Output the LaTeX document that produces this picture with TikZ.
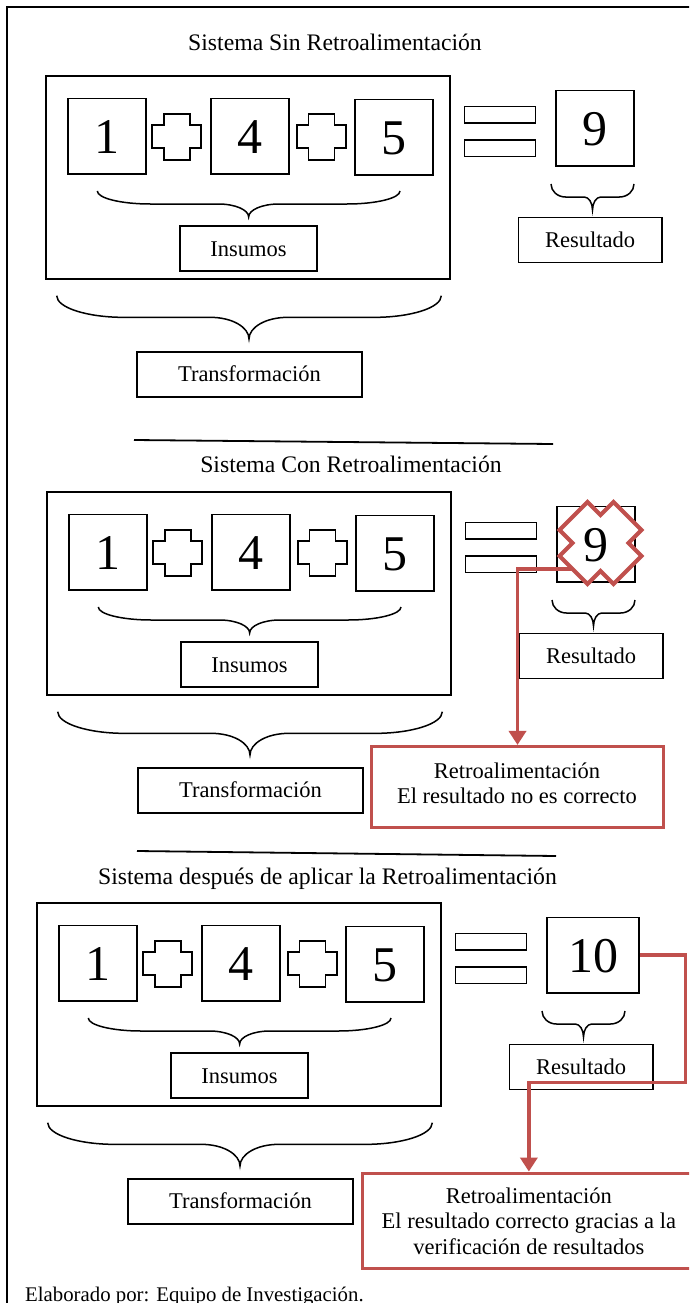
\documentclass[tikz,border=0pt]{standalone}
\usepackage{fontspec}
\setmainfont{Liberation Serif}
\usetikzlibrary{arrows.meta,calc}
\definecolor{fbred}{RGB}{192,80,77}

\tikzset{
  blk/.style={draw=black, line width=1.7pt},
  numbox/.style={blk, inner sep=0pt, minimum width=78pt, minimum height=75.5pt,
    font=\fontsize{50}{50}\selectfont, text height=33.8pt, text depth=0pt},
  eqbar/.style={blk, inner sep=0pt, minimum width=71pt, minimum height=16.5pt},
  lblbox/.style={blk, inner sep=0pt, minimum height=45pt,
    font=\fontsize{22.5}{25}\selectfont, text height=15pt, text depth=0pt},
  title/.style={anchor=base, inner sep=0pt, font=\fontsize{23.7}{28}\selectfont},
  brc/.style={draw=black, line width=1.5pt},
  sepline/.style={draw=black, line width=1.8pt},
  fbline/.style={draw=fbred, line width=3.5pt},
  fbbox/.style={draw=fbred, line width=3.5pt, inner sep=0pt},
  fbtext/.style={inner sep=0pt, align=center, font=\fontsize{22.5}{25.5}\selectfont},
  plusmark/.pic={\draw[blk] (-13,-23) -- (13,-23) -- (13,-11.5) -- (24.5,-11.5)
      -- (24.5,11.5) -- (13,11.5) -- (13,23) -- (-13,23) -- (-13,11.5)
      -- (-24.5,11.5) -- (-24.5,-11.5) -- (-13,-11.5) -- cycle;}
}

% under-brace from x=#1 to x=#2, ends at height #3, tip at height #4
\newcommand\ubrace[4]{%
  \pgfmathsetmacro\brLeft{#1}\pgfmathsetmacro\brRight{#2}%
  \pgfmathsetmacro\brTop{#3}\pgfmathsetmacro\brTip{#4}%
  \pgfmathsetmacro\brMid{(\brLeft+\brRight)/2}%
  \pgfmathsetmacro\brLev{(\brTop+\brTip)/2}%
  \pgfmathsetmacro\brHalf{(\brRight-\brLeft)/2}%
  \pgfmathsetmacro\brEnd{0.35*\brHalf}%
  \pgfmathsetmacro\brCen{0.2*\brHalf}%
  \draw[brc] (\brLeft,\brTop)
    .. controls (\brLeft,{\brTop+0.552*(\brLev-\brTop)}) and ({\brLeft+0.448*\brEnd},\brLev) .. ({\brLeft+\brEnd},\brLev)
    -- ({\brMid-\brCen},\brLev)
    .. controls ({\brMid-0.448*\brCen},\brLev) and (\brMid,{\brTip-0.552*(\brTip-\brLev)}) .. (\brMid,\brTip)
    .. controls (\brMid,{\brTip-0.552*(\brTip-\brLev)}) and ({\brMid+0.448*\brCen},\brLev) .. ({\brMid+\brCen},\brLev)
    -- ({\brRight-\brEnd},\brLev)
    .. controls ({\brRight-0.448*\brEnd},\brLev) and (\brRight,{\brTop+0.552*(\brLev-\brTop)}) .. (\brRight,\brTop);
}

% one system: #1,#2 shift, #3 name prefix, #4 result, #5 result box width, #6 result box x
\newcommand\sysblock[6]{%
  \begin{scope}[shift={(#1,#2)}]
    \node[blk, inner sep=0pt, minimum width=404pt, minimum height=203.3pt] (#3big) at (247.7,177.35) {};
    \node[numbox] (#3n1) at (107.3,136.35) {1};
    \pic at (176.8,136.7) {plusmark};
    \node[numbox] (#3n4) at (249.85,136.35) {4};
    \pic at (321.5,136.7) {plusmark};
    \node[numbox] (#3n5) at (393.85,137.35) {5};
    \ubrace{97.3}{400}{191}{217}
    \node[lblbox, minimum width=137.6pt] (#3ins) at (248.5,248.5) {Insumos};
    \ubrace{56.7}{441.3}{295.7}{339}
    \node[lblbox, minimum width=225.6pt] (#3tra) at (249.5,374.15) {Transformación};
    \node[eqbar] (#3eqa) at (500,114.75) {};
    \node[eqbar] (#3eqb) at (500,148.25) {};
    \node[numbox, minimum width=#5pt] (#3res) at (#6,128.2) {#4};
    \ubrace{551}{634}{184}{210}
    \node[lblbox, minimum width=143.7pt] (#3rlb) at (590.2,240) {Resultado};
  \end{scope}}

\begin{document}
\begin{tikzpicture}[x=1pt, y=-1pt]
  \useasboundingbox (0,0) rectangle (689,1303);
  \clip (0,0) rectangle (689,1303);

  % outer frame
  \draw[line width=2pt] (7,1310) -- (7,7.5) -- (700,7.5);

  % system without feedback
  \node[title] (t1) at (335,51) {Sistema Sin Retroalimentación};
  \sysblock{0}{0}{a}{9}{78}{595}

  \draw[sepline] (134,440) -- (553,444);

  % system with feedback
  \node[title] (t2) at (351,472) {Sistema Con Retroalimentación};
  \sysblock{1}{416}{b}{}{78}{595}
  \begin{scope}[shift={(600.5,543)}]
    \draw[fbline, fill=white, line width=4pt] (-41,-13) -- (-13,-41) -- (0,-28) -- (13,-41)
      -- (41,-13) -- (28,0) -- (41,13) -- (13,41) -- (0,28) -- (-13,41)
      -- (-41,13) -- (-28,0) -- cycle;
  \end{scope}
  \node[inner sep=0pt, font=\fontsize{50}{50}\selectfont, text height=33.8pt, text depth=0pt]
    (bnine) at (bres.center) {9};

  \node[fbbox, minimum width=291.6pt, minimum height=81pt] (fb1) at (517.5,787.2) {};
  \node[fbtext] (fb1t) at (517,783.5) {Retroalimentación\\El resultado no es correcto};
  \coordinate (bxo) at (572.5,569);
  \draw[fbline, -{Triangle[length=14pt,width=17pt]}] (bxo) -| (fb1.north);

  \draw[sepline] (137,851) -- (556,856);

  % system after applying feedback
  \node[title] (t3) at (327.5,884) {Sistema después de aplicar la Retroalimentación};
  \sysblock{-9}{827}{c}{10}{91.7}{602.15}

  \node[fbbox, fbtext, minimum width=332.3pt, minimum height=95pt] (fb2) at (528.85,1220.8)
    {Retroalimentación\\El resultado correcto gracias a la\\verificación de resultados};
  \coordinate (cturn) at (685.5,1082.5);
  \draw[fbline, -{Triangle[length=14pt,width=17pt]}] (cres.east) -| (cturn) -| (fb2.north);

  \node[anchor=base west, inner sep=0pt, font=\fontsize{20.8}{24}\selectfont] (cred) at (25,1301)
    {Elaborado por: Equipo de Investigación.};
\end{tikzpicture}
\end{document}
